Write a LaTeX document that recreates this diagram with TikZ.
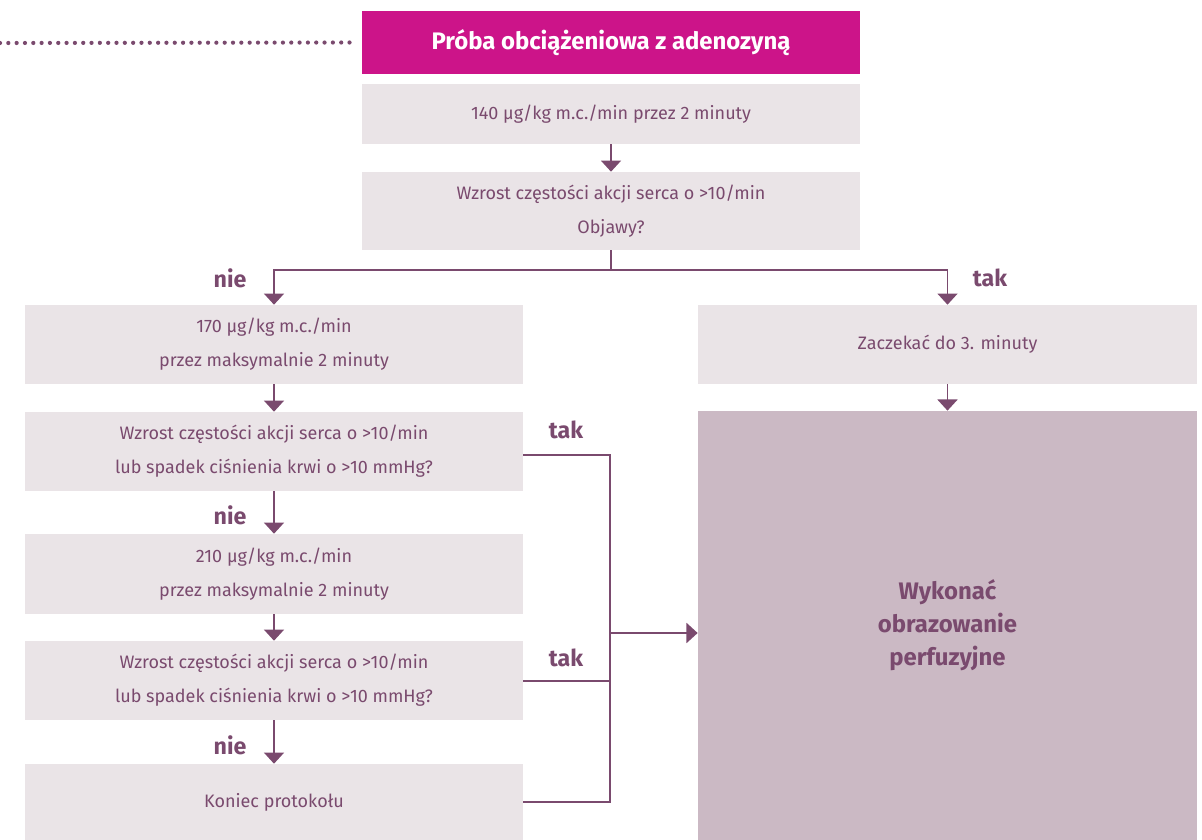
\documentclass[tikz,border=0pt]{standalone}
\usepackage{fontspec}
\setmainfont{Fira Sans}
\usetikzlibrary{arrows.meta,positioning}
\definecolor{plum}{RGB}{122,74,110}
\definecolor{magentahead}{RGB}{204,20,137}
\definecolor{boxgrey}{RGB}{234,228,231}
\definecolor{boxmauve}{RGB}{203,185,196}
\begin{document}
\begin{tikzpicture}[x=0.025cm,y=-0.025cm,
			every node/.style={text=plum},
			box/.style={fill=boxgrey,minimum width=12.45cm,align=center,inner sep=0pt,
				font=\fontsize{12.8}{24}\selectfont},
			header/.style={fill=magentahead,text=white,minimum width=12.45cm,
				minimum height=1.575cm,font=\fontsize{17}{18}\selectfont\bfseries},
			result/.style={fill=boxmauve,minimum width=12.475cm,minimum height=10.725cm,
				align=center,font=\fontsize{17}{23.5}\selectfont\bfseries},
			answer/.style={font=\fontsize{16.5}{18}\selectfont\bfseries},
			link/.style={draw=plum,line width=1.4pt},
			flow/.style={link,-{Triangle[width=0.5cm,length=0.28cm]}}
			]
		\useasboundingbox (0,0) rectangle (1202,840);
		% main column
		\node [header] (head) at (611,42.5) {Próba obciążeniowa z adenozyną};
		\node [box, minimum height=1.5cm] (b140) at (611,114) {140 µg/kg m.c./min przez 2 minuty};
		\node [box, minimum height=1.95cm] (q1) at (611,211) {Wzrost częstości akcji serca o >10/min\\Objawy?};
		% left branch
		\node [box, minimum height=1.975cm] (b170) at (274,344.5) {170 µg/kg m.c./min\\przez maksymalnie 2 minuty};
		\node [box, minimum height=1.975cm] (q2) at (274,451.5) {Wzrost częstości akcji serca o >10/min\\lub spadek ciśnienia krwi o >10 mmHg?};
		\node [box, minimum height=2cm] (b210) at (274,574) {210 µg/kg m.c./min\\przez maksymalnie 2 minuty};
		\node [box, minimum height=1.975cm] (q3) at (274,680.5) {Wzrost częstości akcji serca o >10/min\\lub spadek ciśnienia krwi o >10 mmHg?};
		\node [box, minimum height=1.9cm] (stop) at (274,802) {Koniec protokołu};
		% right branch
		\node [box, minimum width=12.475cm, minimum height=1.975cm] (wait) at (947.5,344.5) {Zaczekać do 3. minuty};
		\node [result] (perf) at (947.5,625.5) {Wykonać\\obrazowanie\\perfuzyjne};

		\node [answer] (nie1) at (230,278) {nie};
		\node [answer] (tak1) at (990,278) {tak};
		\node [answer] (tak2) at (566,430) {tak};
		\node [answer] (nie2) at (230,515) {nie};
		\node [answer] (tak3) at (566,658) {tak};
		\node [answer] (nie3) at (230,745) {nie};

		\coordinate (lead) at (0,43);
		\coordinate (bus) at (610,633);

		\draw [plum, line width=3pt, line cap=round, dash pattern=on 0pt off 0.208cm]
			(lead) -- ([xshift=-0.3cm]head.west);
		\draw [flow] (b140) -- (q1);
		\draw [link] (q1.south) -- ++(0,20) coordinate (fork);
		\draw [flow] (fork) -| (b170.north);
		\draw [flow] (fork) -| (wait.north);
		\draw [flow] (b170) -- (q2);
		\draw [flow] (q2) -- (b210);
		\draw [flow] (b210) -- (q3);
		\draw [flow] (q3) -- (stop);
		\draw [flow] (wait) -- (perf);
		\draw [link] ([yshift=-0.09cm]q2.east) -| (bus);
		\draw [link] ([yshift=-0.0125cm]q3.east) -- ([yshift=-0.0125cm]q3.east -| bus);
		\draw [link] (stop.east) -| (bus);
		\draw [flow] (bus) -- (perf.west |- bus);
\end{tikzpicture}
\end{document}
